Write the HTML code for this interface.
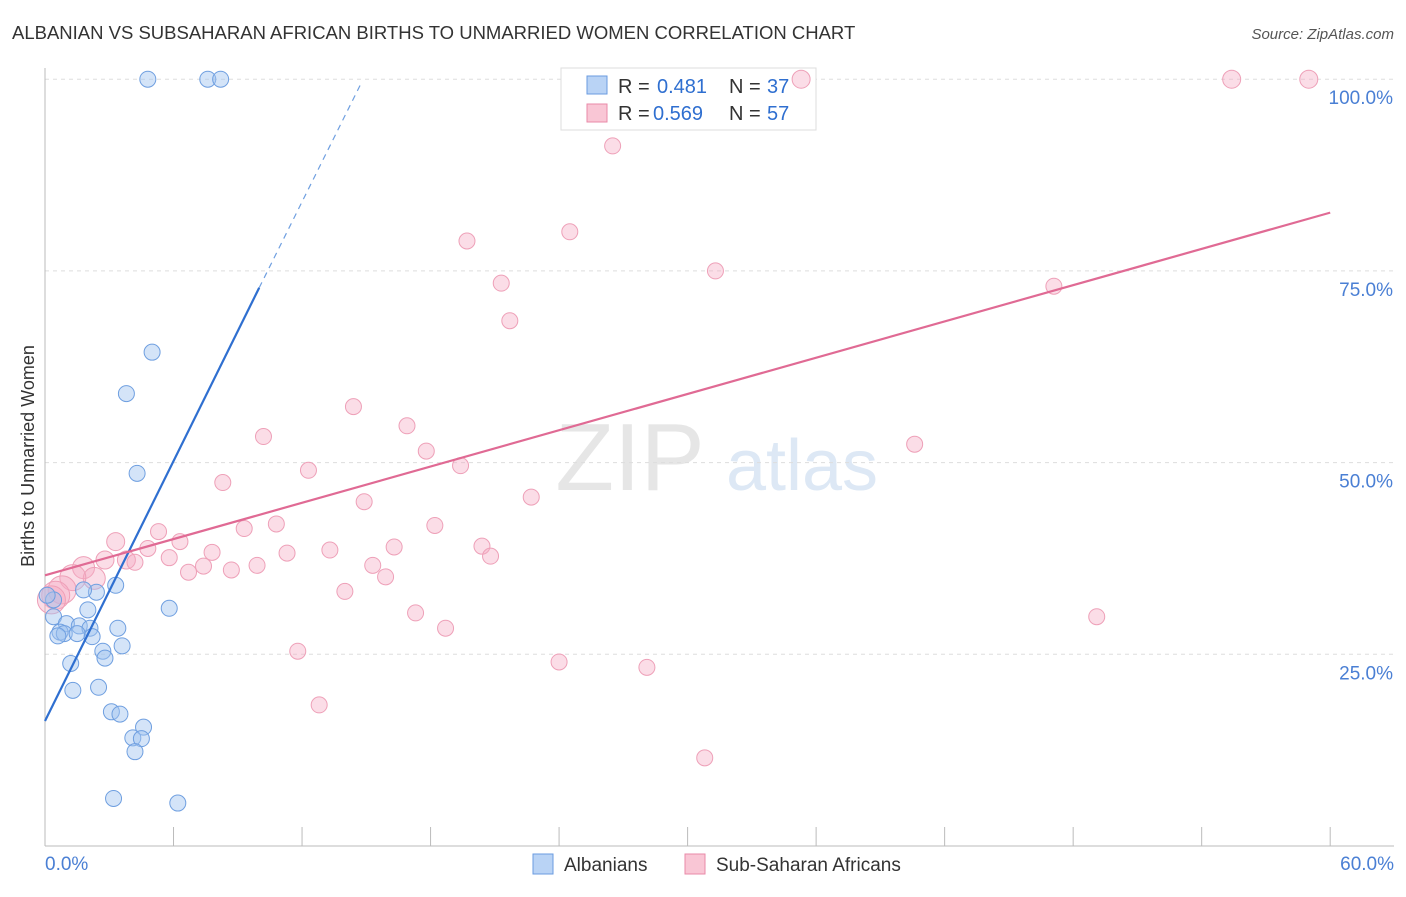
<!DOCTYPE html>
<html><head><meta charset="utf-8"><style>
body{margin:0;background:#fff;font-family:"Liberation Sans",sans-serif;}
svg text{font-family:"Liberation Sans",sans-serif;}
</style></head><body>
<svg id="c" width="1406" height="892">
<text x="12" y="39" font-size="18.5" fill="#333">ALBANIAN VS SUBSAHARAN AFRICAN BIRTHS TO UNMARRIED WOMEN CORRELATION CHART</text>
<text x="1394" y="39" font-size="15" fill="#555" text-anchor="end" font-style="italic">Source: ZipAtlas.com</text>
<text x="630" y="490" font-size="96" fill="#e6e6e6" font-family="Liberation Serif" text-anchor="middle">ZIP</text>
<text x="802" y="490" font-size="72" fill="#dde8f5" text-anchor="middle">atlas</text>
<text transform="translate(34,456) rotate(-90)" font-size="18" fill="#333" text-anchor="middle">Births to Unmarried Women</text>
<g id="grid"></g>
<g>
<rect x="561" y="68" width="255" height="62" fill="#fff" stroke="#ddd"/>
<rect x="587" y="76" width="20" height="18" fill="#b9d3f5" stroke="#6a9be0"/>
<text x="618" y="93" font-size="20" fill="#333">R =</text><text x="657" y="93" font-size="20" fill="#2f6fd0">0.481</text>
<text x="729" y="93" font-size="20" fill="#333">N =</text><text x="767" y="93" font-size="20" fill="#2f6fd0">37</text>
<rect x="587" y="104" width="20" height="18" fill="#f9c6d5" stroke="#e98aa8"/>
<text x="618" y="120" font-size="20" fill="#333">R =</text><text x="653" y="120" font-size="20" fill="#2f6fd0">0.569</text>
<text x="729" y="120" font-size="20" fill="#333">N =</text><text x="767" y="120" font-size="20" fill="#2f6fd0">57</text>
</g>
<g id="marks"></g>
<g>
<rect x="533" y="854" width="20" height="20" fill="#b9d3f5" stroke="#6a9be0"/>
<text x="564" y="871" font-size="19" fill="#333">Albanians</text>
<rect x="685" y="854" width="20" height="20" fill="#f9c6d5" stroke="#e98aa8"/>
<text x="716" y="871" font-size="19" fill="#333">Sub-Saharan Africans</text>
</g>
</svg>
<script>
const blueX=[4.8,7.6,8.2,5.0,3.8,4.3,3.3,2.4,1.8,0.4,2.0,5.8,0.4,1.0,1.6,2.1,3.4,0.7,0.9,1.5,2.2,0.6,3.6,2.7,2.8,1.2,2.5,1.3,3.1,3.5,4.6,4.1,4.5,4.2,3.2,6.2,0.1];
const blueY=[100,100,100,64.4,59.0,48.6,34.0,33.1,33.4,32.1,30.8,31.0,29.9,29.0,28.7,28.4,28.4,27.9,27.7,27.7,27.3,27.4,26.1,25.4,24.5,23.8,20.7,20.3,17.5,17.2,15.5,14.1,14.0,12.3,6.2,5.6,32.7];
const pinkX=[55.4,59.0,35.3,26.5,24.5,19.7,31.3,21.3,47.1,21.7,14.4,16.9,10.2,17.8,40.6,19.4,12.3,8.3,22.7,14.9,18.2,10.8,9.3,5.3,3.3,6.3,4.8,20.4,13.3,16.3,7.8,11.3,2.8,3.8,5.8,20.8,15.3,9.9,7.4,8.7,6.7,1.8,4.2,15.9,2.3,1.3,0.8,14.0,0.5,0.3,17.3,49.1,18.7,11.8,24.0,28.1,12.8,30.8];
const pinkY=[100,100,100,91.3,80.1,78.9,75.0,73.4,73.0,68.5,57.3,54.8,53.4,51.5,52.4,49.6,49.0,47.4,45.5,44.9,41.8,42.0,41.4,41.0,39.7,39.7,38.8,39.1,38.6,39.0,38.3,38.2,37.3,37.3,37.6,37.8,36.6,36.6,36.5,36.0,35.7,36.3,37.0,35.1,34.9,35.0,33.4,33.2,32.7,32.1,30.4,29.9,28.4,25.4,24.0,23.3,18.4,11.5];
const pinkR=[9,9,9,8,8,8,8,8,8,8,8,8,8,8,8,8,8,8,8,8,8,8,8,8,9,8,8,8,8,8,8,8,9,9,8,8,8,8,8,8,8,11,8,8,11,13,14,8,14,14,8,8,8,8,8,8,8,8];
const xTicks=[0,6,12,18,24,30,36,42,48,54,60];
const yTicks=[25,50,75,100];
const X=v=>45+v*21.42, Y=v=>846-v*7.668;
const NS='http://www.w3.org/2000/svg';
const g=document.getElementById('grid'), m=document.getElementById('marks');
function mk(p,tag,a){const e=document.createElementNS(NS,tag);for(const k in a)e.setAttribute(k,a[k]);p.appendChild(e);return e;}
yTicks.forEach(t=>{
 const l=mk(g,'line',{x1:45,x2:1394,y1:Y(t),y2:Y(t),stroke:'#ddd','stroke-dasharray':'4,4'});
 
 
 const tx=mk(g,'text',{x:1393,y:Y(t)+25,'font-size':19,fill:'#4a7fd4','text-anchor':'end'});tx.textContent=t.toFixed(1)+'%';
 
 
});
const ax=mk(g,'line',{x1:45,x2:1394,y1:846,y2:846,stroke:'#bbb'});


const ay=mk(g,'line',{x1:45,x2:45,y1:68,y2:846,stroke:'#bbb'});


xTicks.forEach(t=>{const l=mk(g,'line',{x1:X(t),x2:X(t),y1:827,y2:846,stroke:'#bbb'});
 
 });
[[0,'0.0%','start',45],[60,'60.0%','end',1394]].forEach(a=>{const tx=mk(g,'text',{x:a[3],y:870,'font-size':19,fill:'#4a7fd4','text-anchor':a[2]});tx.textContent=a[1];
 
 });
pinkX.forEach((v,i)=>{const c=mk(m,'circle',{cx:X(v),cy:Y(pinkY[i]),r:pinkR[i],fill:'rgba(246,170,195,0.4)',stroke:'#eea0b8','stroke-width':1});
 
 });
blueX.forEach((v,i)=>{const c=mk(m,'circle',{cx:X(v),cy:Y(blueY[i]),r:8,fill:'rgba(160,195,240,0.45)',stroke:'#6f9fe0','stroke-width':1});
 
 });
const b1=mk(m,'line',{x1:X(0),y1:Y(16.3),x2:X(10),y2:Y(72.8),stroke:'#2f6fd0','stroke-width':2.2});


const b2=mk(m,'line',{x1:X(10),y1:Y(72.8),x2:X(14.8),y2:Y(99.7),stroke:'#6f9fe0','stroke-width':1.2,'stroke-dasharray':'6,5'});


const p1=mk(m,'line',{x1:X(0),y1:Y(35.3),x2:X(60),y2:Y(82.6),stroke:'#e06a94','stroke-width':2.2});


</script>
</body></html>
